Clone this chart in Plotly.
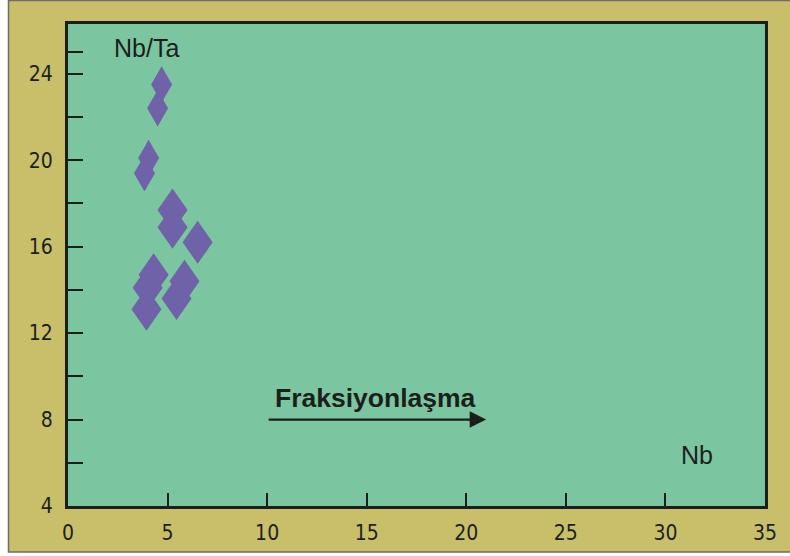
import plotly.graph_objects as go

# Nb (ppm) and Nb/Ta ratio of the samples
nb = [4.70, 4.50, 4.05, 3.84, 5.25, 5.25, 6.51, 4.30, 4.00, 3.94, 5.85, 5.45]
nb_ta = [23.5, 22.4, 20.1, 19.4, 17.7, 16.9, 16.2, 14.7, 14.1, 13.1, 14.4, 13.6]

x_tick_vals = [0, 5, 10, 15, 20, 25, 30, 35]
x_tick_text = ["0", "5", "10", "15", "20", "25", "30", "35"]
y_tick_vals = [4, 6, 8, 10, 12, 14, 16, 18, 20, 22, 24, 25]
y_tick_text = ["4", "", "8", "", "12", "", "16", "", "20", "", "24", ""]

# fractionation trend arrow (Nb from -> to, at Nb/Ta level)
arrow_nb = [10, 21]
arrow_ratio = 8

KHAKI = "#c9bf6b"
GREEN = "#7bc5a0"
PURPLE = "#6f62a8"
INK = "#1b1f1b"

W, H = 790, 556
ML, MR, MT, MB = 68, 25, 24, 50
PW, PH = W - ML - MR, H - MT - MB


def px_x(p):
    return (p - ML) / PW


def px_y(p):
    return 1 - (p - MT) / PH


fig = go.Figure()

# sample points
fig.add_trace(go.Scatter(
    x=nb, y=nb_ta, mode="markers",
    marker=dict(symbol="diamond-tall", size=26, color=PURPLE, opacity=1,
                line=dict(width=0)),
    showlegend=False, cliponaxis=False,
))

# rhombus glyphs anchored on each sample (pixel-sized, so they keep their
# proportions); the high-ratio group is drawn slimmer
for xv, yv in zip(nb, nb_ta):
    a, b = (10.5, 18) if yv > 19 else (15, 21.5)
    fig.add_shape(
        type="path", xref="x", yref="y",
        xsizemode="pixel", ysizemode="pixel", xanchor=xv, yanchor=yv,
        path=f"M 0 {b} L {a} 0 L 0 {-b} L {-a} 0 Z",
        fillcolor=PURPLE, line=dict(width=0), layer="above",
    )

axis_common = dict(
    showline=True, linewidth=3, linecolor=INK, mirror=True,
    showgrid=False, zeroline=False,
    ticks="inside", tickwidth=1.5, tickcolor=INK,
    tickfont=dict(family="Liberation Sans Narrow, Arial Narrow, DejaVu Sans Condensed, sans-serif",
                  size=21, color=INK),
)

fig.update_xaxes(range=[0, 35], tickmode="array", tickvals=x_tick_vals,
                 ticktext=x_tick_text, ticklen=13, ticklabelstandoff=6,
                 **axis_common)
fig.update_yaxes(range=[4, 26.3], tickmode="array", tickvals=y_tick_vals,
                 ticktext=y_tick_text, ticklen=15, ticklabelstandoff=8,
                 **axis_common)

label_font = dict(family="Liberation Sans, Arial, sans-serif", size=25, color=INK)

fig.add_annotation(x=3.94, y=25.2, text="Nb/Ta", showarrow=False,
                   font=label_font, xanchor="center", yanchor="middle")
fig.add_annotation(x=31.6, y=6.36, text="Nb", showarrow=False,
                   font=label_font, xanchor="center", yanchor="middle")
fig.add_annotation(x=15.45, y=8.99, text="<b>Fraksiyonlaşma</b>", showarrow=False,
                   font=dict(family="Liberation Sans, Arial, sans-serif", size=26.5, color=INK),
                   xanchor="center", yanchor="middle")
fig.add_annotation(x=arrow_nb[1], y=arrow_ratio, ax=arrow_nb[0], ay=arrow_ratio,
                   xref="x", yref="y", axref="x", ayref="y", text="",
                   showarrow=True, arrowhead=2, arrowsize=1.5, arrowwidth=2.2,
                   arrowcolor=INK, standoff=0, startstandoff=0)

# page frame: white strips on the left and bottom, thin grey border
fig.add_shape(type="rect", xref="paper", yref="paper",
              x0=px_x(-5), x1=px_x(8), y0=px_y(-5), y1=px_y(H + 5),
              fillcolor="white", line=dict(width=0), layer="above")
fig.add_shape(type="rect", xref="paper", yref="paper",
              x0=px_x(-5), x1=px_x(W + 5), y0=px_y(552), y1=px_y(H + 5),
              fillcolor="white", line=dict(width=0), layer="above")
fig.add_shape(type="rect", xref="paper", yref="paper",
              x0=px_x(8.5), x1=px_x(W + 10), y0=px_y(552), y1=px_y(0.5),
              fillcolor="rgba(0,0,0,0)", line=dict(width=1.5, color="#6e6e66"),
              layer="above")

fig.update_layout(
    width=W, height=H,
    margin=dict(l=ML, r=MR, t=MT, b=MB),
    paper_bgcolor=KHAKI, plot_bgcolor=GREEN,
)

fig.write_html("out.html")
